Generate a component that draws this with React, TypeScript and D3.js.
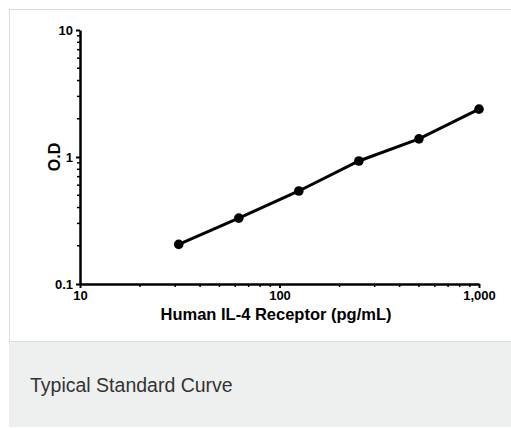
import React, { useRef, useEffect } from "react";
import * as d3 from "d3";

// standard curve readings
const concentrations = [31.25, 62.5, 125, 250, 500, 1000];
const odValues = [0.205, 0.33, 0.54, 0.93, 1.39, 2.38];
const xTicks = [10, 100, 1000];
const yTicks = [0.1, 1, 10];
const xLabel = "Human IL-4 Receptor (pg/mL)";
const yLabel = "O.D";
const caption = "Typical Standard Curve";

export default function App() {
    const svgRef = useRef<SVGSVGElement | null>(null);

    useEffect(() => {
        if (!svgRef.current) return;
        const width = 511;
        const font = "'Liberation Sans', Arial, sans-serif";

        const svg = d3.select(svgRef.current);
        svg.selectAll("*").remove();

        // card frame + caption band
        svg.append("rect")
            .attr("x", 9.5).attr("y", 9.5)
            .attr("width", width).attr("height", 332)
            .attr("fill", "#fff").attr("stroke", "#dcdcdc");
        svg.append("rect")
            .attr("x", 9).attr("y", 342)
            .attr("width", width).attr("height", 85)
            .attr("fill", "#eef0f0");
        svg.append("text")
            .attr("x", 30).attr("y", 392)
            .attr("font-family", font).attr("font-size", 19.5)
            .attr("fill", "#333")
            .text(caption);

        const x = d3.scaleLog().domain([10, 1000]).range([80, 479]);
        const y = d3.scaleLog().domain([0.1, 10]).range([284, 30]);

        const xAxis = d3.axisBottom(x)
            .tickValues(xTicks)
            .tickFormat(d3.format(","))
            .tickSize(4)
            .tickSizeOuter(0);
        const yAxis = d3.axisLeft(y)
            .tickValues(yTicks)
            .tickFormat((d) => String(d))
            .tickSize(4)
            .tickSizeOuter(0);

        const styleAxis = (g: any) => {
            g.attr("font-size", 13).attr("font-family", font);
            g.select(".domain").attr("stroke", "#000").attr("stroke-width", 2.5);
            g.selectAll(".tick line").attr("stroke", "#000").attr("stroke-width", 2);
            g.selectAll(".tick text")
                .attr("font-weight", "bold")
                .attr("fill", "#000");
        };

        // minor ticks
        const minorX = x.ticks().filter((v) => !xTicks.includes(v));
        const minorY = y.ticks().filter((v) => !yTicks.includes(v));
        svg.append("g").selectAll("line").data(minorX).join("line")
            .attr("x1", (d) => x(d)).attr("x2", (d) => x(d))
            .attr("y1", 284).attr("y2", 287)
            .attr("stroke", "#000").attr("stroke-width", 1.5);
        svg.append("g").selectAll("line").data(minorY).join("line")
            .attr("x1", 77).attr("x2", 80)
            .attr("y1", (d) => y(d)).attr("y2", (d) => y(d))
            .attr("stroke", "#000").attr("stroke-width", 1.5);

        svg.append("g")
            .attr("transform", "translate(0,284)")
            .call(xAxis)
            .call(styleAxis);

        svg.append("g")
            .attr("transform", "translate(80,0)")
            .call(yAxis)
            .call(styleAxis)
            .selectAll(".tick text").attr("x", -7);

        const pts = concentrations.map((c, i) => [c, odValues[i]] as [number, number]);
        const line = d3.line<[number, number]>()
            .x((d) => x(d[0]))
            .y((d) => y(d[1]));

        svg.append("path")
            .datum(pts)
            .attr("fill", "none")
            .attr("stroke", "#000")
            .attr("stroke-width", 3)
            .attr("d", line);

        svg.append("g").selectAll("circle").data(pts).join("circle")
            .attr("cx", (d) => x(d[0]))
            .attr("cy", (d) => y(d[1]))
            .attr("r", 4.8)
            .attr("fill", "#000");

        svg.append("text")
            .attr("x", 276).attr("y", 320)
            .attr("text-anchor", "middle")
            .attr("font-family", font).attr("font-size", 16.5)
            .attr("font-weight", "bold")
            .text(xLabel);

        svg.append("text")
            .attr("transform", "translate(60,157) rotate(-90)")
            .attr("text-anchor", "middle")
            .attr("font-family", font).attr("font-size", 16)
            .attr("font-weight", "bold")
            .text(yLabel);
    }, []);

    return (
        <svg
            ref={svgRef}
            width={511}
            height={428}
            style={{ position: "absolute", left: 0, top: 0 }}
        ></svg>
    );
}
